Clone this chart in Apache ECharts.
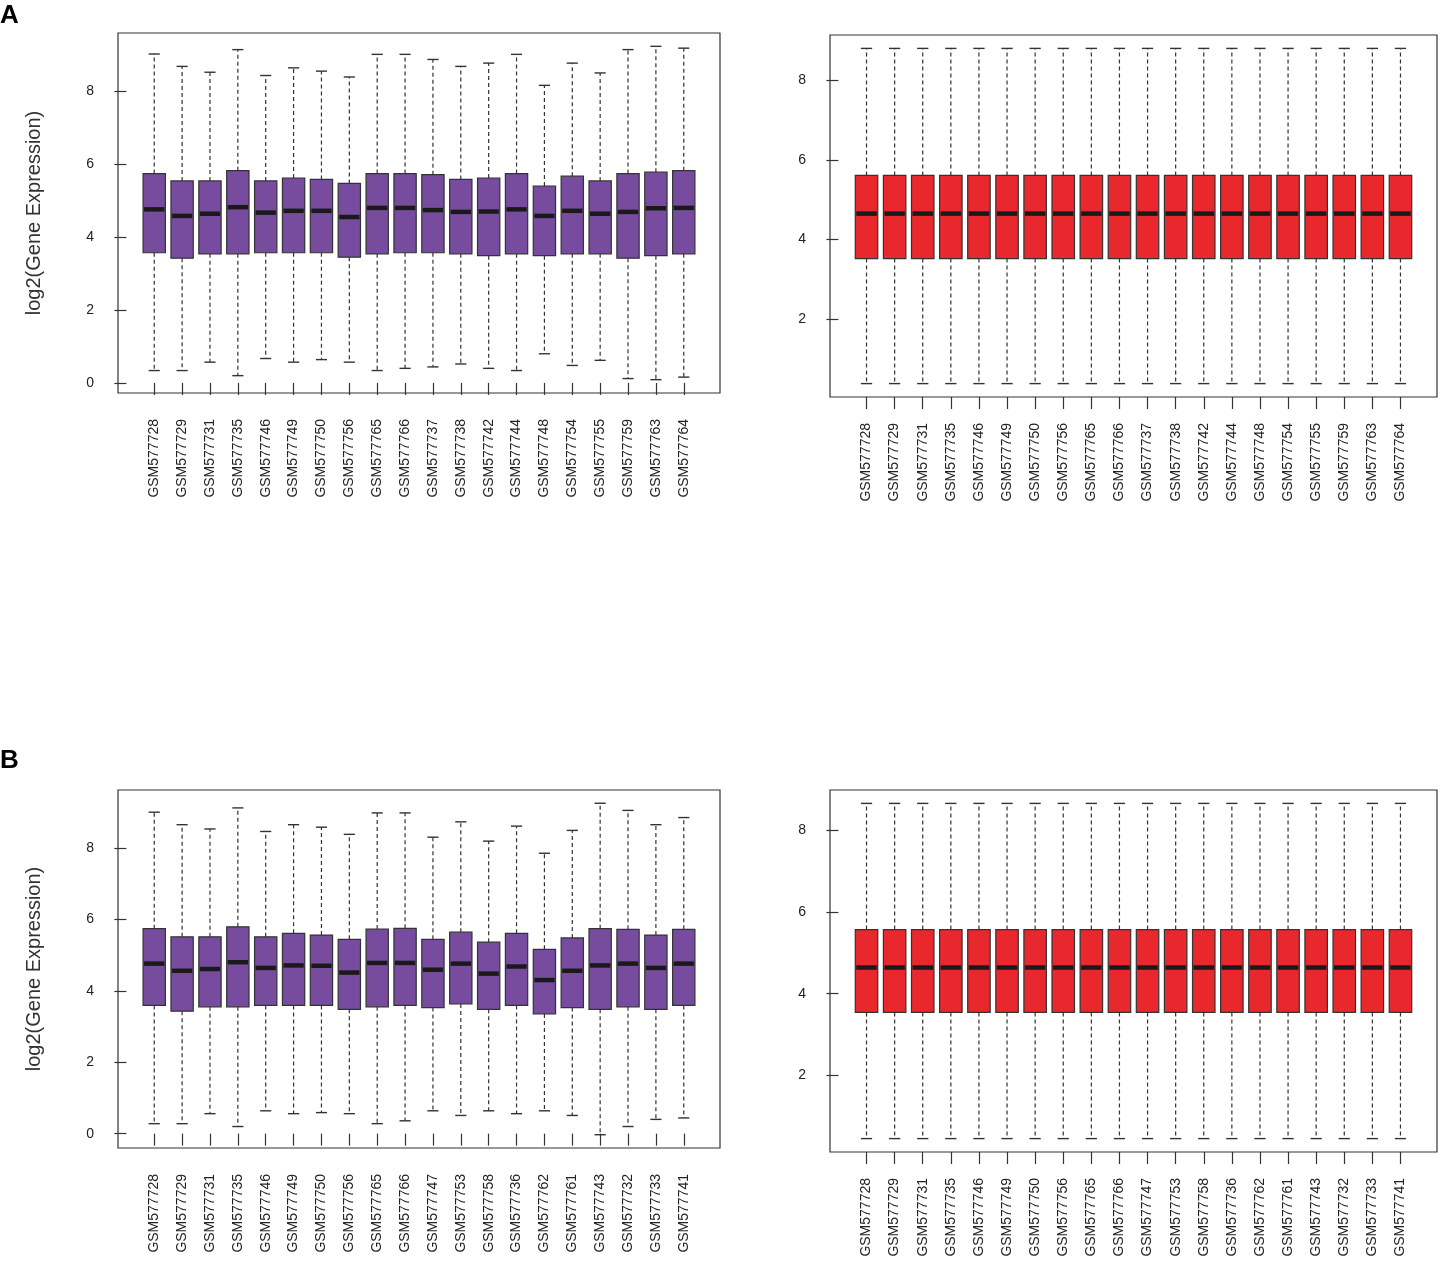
<!DOCTYPE html>
<html>
<head>
<meta charset="utf-8">
<title>boxplots</title>
<script src="https://cdn.jsdelivr.net/npm/echarts@6.0.0/dist/echarts.min.js"></script>
<style>
  html, body { margin: 0; padding: 0; background: #fff; }
  #main { width: 1441px; height: 1267px; }
</style>
</head>
<body>
<div id="main"></div>
<script>
// sample names, panel A and panel B
var samplesA = ['GSM577728', 'GSM577729', 'GSM577731', 'GSM577735', 'GSM577746', 'GSM577749', 'GSM577750',
  'GSM577756', 'GSM577765', 'GSM577766', 'GSM577737', 'GSM577738', 'GSM577742', 'GSM577744', 'GSM577748',
  'GSM577754', 'GSM577755', 'GSM577759', 'GSM577763', 'GSM577764'];
var samplesB = ['GSM577728', 'GSM577729', 'GSM577731', 'GSM577735', 'GSM577746', 'GSM577749', 'GSM577750',
  'GSM577756', 'GSM577765', 'GSM577766', 'GSM577747', 'GSM577753', 'GSM577758', 'GSM577736', 'GSM577762',
  'GSM577761', 'GSM577743', 'GSM577732', 'GSM577733', 'GSM577741'];

// [min, Q1, median, Q3, max] per sample, before normalisation
var rawA = [
  [0.34, 3.57, 4.76, 5.74, 9.02], [0.34, 3.42, 4.58, 5.54, 8.68], [0.57, 3.54, 4.64, 5.54, 8.52],
  [0.20, 3.54, 4.82, 5.82, 9.14], [0.67, 3.57, 4.67, 5.54, 8.43], [0.57, 3.57, 4.72, 5.62, 8.64],
  [0.64, 3.57, 4.72, 5.58, 8.55], [0.57, 3.45, 4.55, 5.47, 8.39], [0.34, 3.54, 4.80, 5.74, 9.01],
  [0.40, 3.57, 4.80, 5.74, 9.01], [0.44, 3.57, 4.74, 5.71, 8.87], [0.52, 3.54, 4.69, 5.58, 8.68],
  [0.40, 3.49, 4.70, 5.62, 8.77], [0.34, 3.54, 4.76, 5.74, 9.01], [0.80, 3.49, 4.58, 5.40, 8.16],
  [0.48, 3.54, 4.72, 5.67, 8.77], [0.62, 3.54, 4.64, 5.54, 8.50], [0.12, 3.42, 4.69, 5.74, 9.14],
  [0.09, 3.49, 4.79, 5.78, 9.23], [0.16, 3.54, 4.80, 5.82, 9.18]
];
var rawB = [
  [0.28, 3.59, 4.76, 5.74, 9.00], [0.28, 3.43, 4.56, 5.51, 8.65], [0.56, 3.55, 4.61, 5.51, 8.53],
  [0.20, 3.55, 4.80, 5.79, 9.12], [0.64, 3.59, 4.64, 5.51, 8.46], [0.56, 3.59, 4.71, 5.61, 8.65],
  [0.59, 3.59, 4.70, 5.56, 8.58], [0.56, 3.48, 4.51, 5.44, 8.38], [0.28, 3.55, 4.78, 5.73, 8.98],
  [0.36, 3.59, 4.78, 5.75, 8.98], [0.64, 3.53, 4.59, 5.44, 8.30], [0.51, 3.63, 4.76, 5.64, 8.73],
  [0.64, 3.48, 4.48, 5.36, 8.19], [0.56, 3.59, 4.68, 5.61, 8.61], [0.64, 3.35, 4.30, 5.16, 7.85],
  [0.51, 3.53, 4.56, 5.48, 8.49], [-0.03, 3.48, 4.71, 5.74, 9.25], [0.20, 3.55, 4.76, 5.72, 9.05],
  [0.40, 3.48, 4.64, 5.56, 8.65], [0.44, 3.59, 4.76, 5.72, 8.85]
];
// after normalisation every sample has the same distribution
var normA = [0.38, 3.52, 4.65, 5.61, 8.80];
var normB = [0.45, 3.54, 4.64, 5.57, 8.66];

var yTicks = [0, 2, 4, 6, 8];
var yTitle = 'log2(Gene Expression)';

var PURPLE = '#774c9f';
var RED = '#e9282d';
var FONT = 'Liberation Sans, Arial, Helvetica, sans-serif';

// plot frames in px: left, top, width, height
var frames = [
  { left: 118, top: 33, width: 602, height: 360 },
  { left: 830, top: 35, width: 607, height: 362 },
  { left: 118, top: 790, width: 602, height: 358 },
  { left: 830, top: 790, width: 607, height: 362 }
];

var panels = [
  { names: samplesA, boxes: rawA, color: PURPLE, title: true },
  { names: samplesA, boxes: samplesA.map(function () { return normA; }), color: RED, title: false },
  { names: samplesB, boxes: rawB, color: PURPLE, title: true },
  { names: samplesB, boxes: samplesB.map(function () { return normB; }), color: RED, title: false }
];

// R style limits: data range padded by 4%
function rRange(lo, hi) {
  var d = (hi - lo) * 0.04;
  return [lo - d, hi + d];
}

function makeRender(color) {
  return function (params, api) {
    var x = api.value(0);
    var pLo = api.coord([x, api.value(1)]);
    var pQ1 = api.coord([x, api.value(2)]);
    var pMd = api.coord([x, api.value(3)]);
    var pQ3 = api.coord([x, api.value(4)]);
    var pHi = api.coord([x, api.value(5)]);
    var w = api.size([0.8, 0])[0];
    var c = pMd[0];
    var dash = { stroke: '#333', lineWidth: 1.2, lineDash: [4, 3] };
    var solid = { stroke: '#333', lineWidth: 1.4 };
    return {
      type: 'group',
      children: [
        { type: 'line', shape: { x1: c, y1: pQ3[1], x2: c, y2: pHi[1] }, style: dash },
        { type: 'line', shape: { x1: c, y1: pQ1[1], x2: c, y2: pLo[1] }, style: dash },
        { type: 'line', shape: { x1: c - w / 4, y1: pHi[1], x2: c + w / 4, y2: pHi[1] }, style: solid },
        { type: 'line', shape: { x1: c - w / 4, y1: pLo[1], x2: c + w / 4, y2: pLo[1] }, style: solid },
        { type: 'rect', shape: { x: c - w / 2, y: pQ3[1], width: w, height: pQ1[1] - pQ3[1] },
          style: { fill: color, stroke: '#333', lineWidth: 1.2 } },
        { type: 'line', shape: { x1: c - w / 2 + 1, y1: pMd[1], x2: c + w / 2 - 1, y2: pMd[1] },
          style: { stroke: '#1a1a1a', lineWidth: 4.5 } }
      ]
    };
  };
}

var grid = [], xAxis = [], yAxis = [], series = [];
panels.forEach(function (p, i) {
  var f = frames[i];
  grid.push({ left: f.left, top: f.top, width: f.width, height: f.height,
    show: true, borderColor: '#333', borderWidth: 1.2, backgroundColor: 'transparent' });

  var lo = Math.min.apply(null, p.boxes.map(function (b) { return b[0]; }));
  var hi = Math.max.apply(null, p.boxes.map(function (b) { return b[4]; }));
  var yr = rRange(lo, hi);
  var xr = rRange(0.5, p.names.length + 0.5);
  var pos = p.names.map(function (n, k) { return k + 1; });
  var ticks = yTicks.filter(function (t) { return t >= yr[0] && t <= yr[1]; });

  xAxis.push({
    type: 'value', gridIndex: i, min: xr[0], max: xr[1],
    axisLine: { show: false }, splitLine: { show: false },
    axisTick: { show: true, customValues: pos, length: 12, lineStyle: { color: '#333', width: 1.2 } },
    axisLabel: {
      customValues: pos, rotate: 90, margin: 26, fontSize: 14, color: '#222', fontFamily: FONT,
      formatter: function (v) { return p.names[Math.round(v) - 1]; }
    }
  });
  yAxis.push({
    type: 'value', gridIndex: i, min: yr[0], max: yr[1],
    axisLine: { show: false }, splitLine: { show: false },
    axisTick: { show: true, customValues: ticks, length: 12, lineStyle: { color: '#333', width: 1.2 } },
    axisLabel: { customValues: ticks, margin: 24, fontSize: 14, color: '#222', fontFamily: FONT },
    name: p.title ? yTitle : '', nameLocation: 'middle', nameGap: 74,
    nameTextStyle: { fontSize: 20, color: '#333', fontFamily: FONT }
  });
  series.push({
    type: 'custom', xAxisIndex: i, yAxisIndex: i,
    renderItem: makeRender(p.color),
    encode: { x: 0, y: [1, 2, 3, 4, 5] },
    data: p.boxes.map(function (b, k) { return [k + 1].concat(b); }),
    silent: true, animation: false
  });
});

var chart = echarts.init(document.getElementById('main'), null, { renderer: 'canvas' });
chart.setOption({
  backgroundColor: '#fff',
  animation: false,
  title: [
    { text: 'A', left: 0, top: 3, padding: 0,
      textStyle: { fontSize: 26, fontWeight: 'bold', color: '#000', fontFamily: FONT } },
    { text: 'B', left: 0, top: 748, padding: 0,
      textStyle: { fontSize: 26, fontWeight: 'bold', color: '#000', fontFamily: FONT } }
  ],
  grid: grid,
  xAxis: xAxis,
  yAxis: yAxis,
  series: series
});
</script>
</body>
</html>
